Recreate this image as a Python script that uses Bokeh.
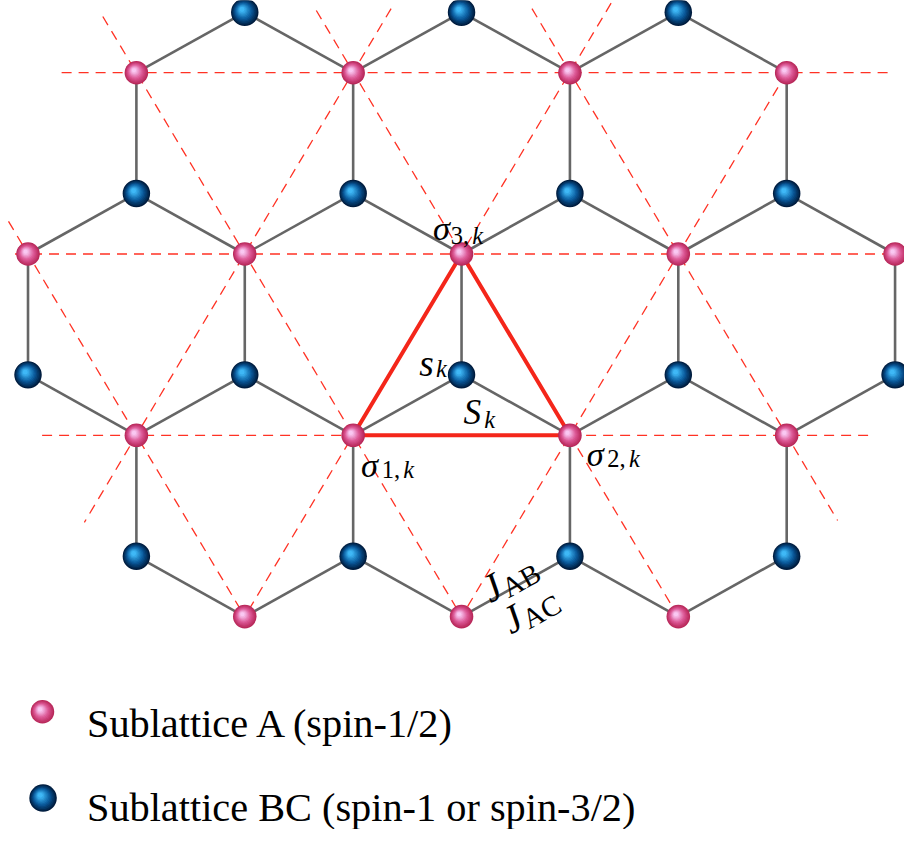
import numpy as np
from bokeh.plotting import figure
from bokeh.models import Range1d
from bokeh.core.properties import value
from bokeh.embed import file_html
from bokeh.resources import INLINE

# ---------------- data: lattice sites (column index, level index; level grows downward)
# Sublattice A (spin-1/2)
a_col = [1, 3, 5, 7, 0, 2, 4, 6, 8, 1, 3, 5, 7, 2, 4, 6]
a_lev = [1, 1, 1, 1, 4, 4, 4, 4, 4, 7, 7, 7, 7, 10, 10, 10]
# Sublattice BC (spin-1 or spin-3/2)
b_col = [2, 4, 6, 1, 3, 5, 7, 0, 2, 4, 6, 8, 1, 3, 5, 7]
b_lev = [0, 0, 0, 3, 3, 3, 3, 6, 6, 6, 6, 6, 9, 9, 9, 9]

# k-th cluster: sigma_1,k , sigma_3,k , sigma_2,k (A sites), S_k centre (B site)
tri_col = [3, 4, 5]
tri_lev = [7, 4, 7]
centre_col, centre_lev = 4, 6

# dashed guide lines of the triangular A lattice (start / end)
guide_c0 = [0.31, -0.12, 0.13, 0.69, -0.18, 2.66, 4.65, 3.35, 5.38, 7]
guide_l0 = [1, 4, 7, 0.07, 3.46, -0.03, -0.06, -0.06, -0.15, 1]
guide_c1 = [7.95, 8.3, 7.8, 4, 2, 6, 7.47, 0.52, 2, 4]
guide_l1 = [1, 4, 7, 10, 10, 10, 8.41, 8.44, 10, 10]

legend_labels = ["Sublattice A (spin-1/2)", "Sublattice BC (spin-1 or spin-3/2)"]

# ---------------- geometry of the drawing
W, H = 904, 829
SX, SY = W / 920.0, H / 845.0   # overall scale of the drawing
S = (SX + SY) / 2
PX_X, PX_Y = 110.3 * SX, 61.6 * SY   # pixels per lattice unit
OX, OY = 28.0 * SX, 12.0 * SY        # canvas position of lattice origin


def ref_c(x):                 # drawing px -> lattice column
    return (x - 28.0) / 110.3


def ref_l(y):
    return (y - 12.0) / 61.6


p = figure(width=W, height=H,
           x_range=Range1d(-OX / PX_X, (W - OX) / PX_X),
           y_range=Range1d((H - OY) / PX_Y, -OY / PX_Y),
           output_backend="svg", toolbar_location=None, min_border=0,
           x_axis_location=None, y_axis_location=None)
p.grid.visible = False
p.outline_line_color = None
p.background_fill_color = "white"
p.border_fill_color = "white"

# dashed guide lines
p.multi_line([[a, b] for a, b in zip(guide_c0, guide_c1)],
             [[a, b] for a, b in zip(guide_l0, guide_l1)],
             line_color="#ff3224", line_width=1.3, line_dash="10 7", line_alpha=1.0)

# honeycomb bonds
exs, eys = [], []
for ca, la in zip(a_col, a_lev):
    for cb, lb in zip(b_col, b_lev):
        if (abs(ca - cb) == 1 and abs(la - lb) == 1) or (ca == cb and lb - la == 2):
            exs.append([ca, cb])
            eys.append([la, lb])
p.multi_line(exs, eys, line_color="#666666", line_width=2.6)

# red triangle of the cluster
p.patch(tri_col, tri_lev, fill_color=None, line_color="#f4261a", line_width=4)


def hexrgb(h):
    h = h.lstrip("#")
    return np.array([int(h[i:i + 2], 16) for i in (0, 2, 4)], dtype=float)


def lerp(c1, c2, t):
    c = hexrgb(c1) * (1 - t) + hexrgb(c2) * t
    return "#%02x%02x%02x" % tuple(int(round(v)) for v in c)


def spheres(xs, ys, d, rim, mid, hi, n=11):
    xs = np.asarray(xs, dtype=float)
    ys = np.asarray(ys, dtype=float)
    d = d * S
    for i in range(n):
        t = i / (n - 1)
        col = lerp(rim, mid, t / 0.45) if t < 0.45 else lerp(mid, hi, (t - 0.45) / 0.55)
        size = d * (1 - 0.82 * t)
        off = 0.10 * d * t
        p.scatter(xs - off / PX_X, ys - off / PX_Y, size=size,
                  fill_color=col, line_color=None)


PINK = ("#b8285a", "#dc5896", "#f9c8f2")
BLUE = ("#001c3e", "#0a5a9c", "#3fb8f6")
spheres(a_col, a_lev, 24, *PINK)
spheres(b_col, b_lev, 28, *BLUE)

# ---------------- labels
SERIF = value("Liberation Serif")


def put(c, l, dx, dy, txt, size, style="italic", angle=0.0):
    p.text(x=[c + dx * SX / PX_X], y=[l + dy * SY / PX_Y], text=[txt],
           text_font=SERIF, text_font_size=value(f"{size * S:.1f}px"),
           text_font_style=style, text_color="black",
           text_align="left", text_baseline="alphabetic", angle=angle)


# sigma_3,k
put(tri_col[1], tri_lev[1], -29, -27, "σ", 35)
put(tri_col[1], tri_lev[1], -11, -19, "3,", 25, "normal")
put(tri_col[1], tri_lev[1], 11, -19, "k", 25)
# sigma_1,k
put(tri_col[0], tri_lev[0], 8, 30, "σ", 35)
put(tri_col[0], tri_lev[0], 29, 35, "1,", 25, "normal")
put(tri_col[0], tri_lev[0], 51, 35, "k", 25)
# sigma_2,k
put(tri_col[2], tri_lev[2], 17, 19, "σ", 35)
put(tri_col[2], tri_lev[2], 38, 24, "2,", 25, "normal")
put(tri_col[2], tri_lev[2], 60, 24, "k", 25)
# s_k and S_k
put(centre_col, centre_lev, -43, -12, "s", 38)
put(centre_col, centre_lev, -26, -6, "k", 25)
put(centre_col, centre_lev, 2, 38, "S", 36)
put(centre_col, centre_lev, 23, 45, "k", 25)
# J_AB / J_AC along the bond
ang = np.arctan2(PX_Y, PX_X)
put(4, 10, 23, -25, "J", 40, "italic", ang)
put(4, 10, 43, -27, "AB", 29, "normal", ang)
put(4, 10, 44, 7, "J", 40, "italic", ang)
put(4, 10, 64, 5, "AC", 29, "normal", ang)

# ---------------- legend
spheres([ref_c(42.7)], [ref_l(725)], 24, *PINK)
spheres([ref_c(43.3)], [ref_l(813)], 28, *BLUE)
p.text(x=[ref_c(88)] * 2, y=[ref_l(737), ref_l(823)], text=legend_labels,
       text_font=SERIF, text_font_size=value(f"{41 * S:.1f}px"), text_color="black",
       text_align="left", text_baseline="alphabetic")

open("out.html", "w").write(file_html(p, INLINE))
